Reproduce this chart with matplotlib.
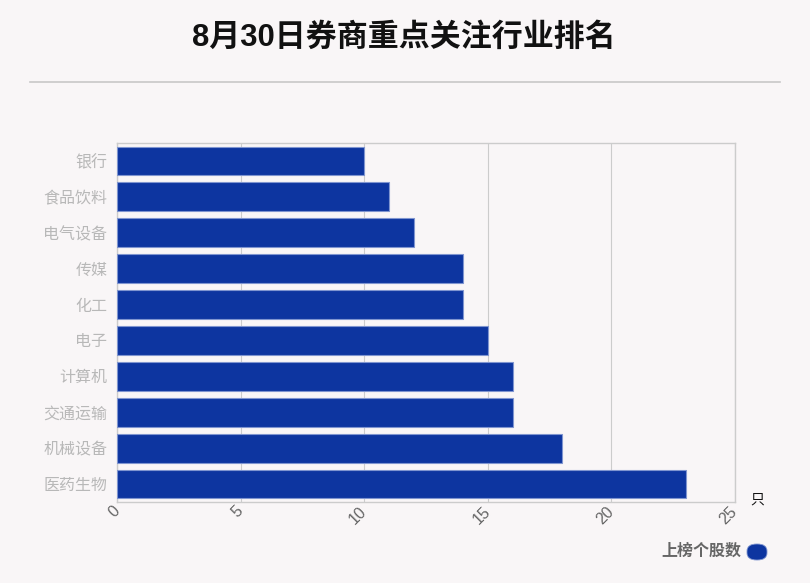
import matplotlib
matplotlib.use("Agg")
import matplotlib.pyplot as plt
from matplotlib.patches import FancyBboxPatch

plt.rcParams['font.family'] = ['Liberation Sans', 'Noto Sans CJK SC', 'DejaVu Sans']

title = "8月30日券商重点关注行业排名"
categories = ["银行", "食品饮料", "电气设备", "传媒", "化工", "电子", "计算机", "交通运输", "机械设备", "医药生物"]
values = [10, 11, 12, 14, 14, 15, 16, 16, 18, 23]
xticks = [0, 5, 10, 15, 20, 25]
series_name = "上榜个股数"
unit = "只"

W, H = 810, 583
bg = "#f9f6f7"
bar_color = "#0d35a0"

fig = plt.figure(figsize=(W / 100, H / 100), dpi=100, facecolor=bg)
ax = fig.add_axes([117 / W, 1 - 502 / H, (735 - 117) / W, (502 - 143) / H])
ax.set_facecolor(bg)

y = list(range(len(categories)))
ax.barh(y, values, height=0.8, color=bar_color, edgecolor="#7f95d0", linewidth=0.8, zorder=3)
ax.set_ylim(len(categories) - 0.5, -0.5)
ax.set_xlim(0, 25)
ax.set_yticks(y)
ax.set_yticklabels(categories, fontsize=11.5, color="#b8b8b8")
ax.set_xticks(xticks)
ax.set_xticklabels([str(t) for t in xticks], fontsize=11.5, color="#666666",
                   rotation=45, ha='right', va='center', rotation_mode='anchor')
ax.tick_params(axis='y', length=0, pad=7)
ax.tick_params(axis='x', length=0, pad=5)
ax.grid(axis='x', color="#cccccc", linewidth=0.8, zorder=0)
for s in ax.spines.values():
    s.set_color("#cccccc")
    s.set_linewidth(1.0)

fig.text(404 / W, 1 - 38 / H, title, ha='center', va='center', fontsize=22.3, fontweight='bold', color="#111111")
fig.add_artist(plt.Line2D([30 / W, 780 / W], [1 - 82 / H, 1 - 82 / H], color="#c8c8c8", linewidth=1.2))
fig.text(757 / W, 1 - 500 / H, unit, ha='center', va='center', fontsize=10, color="#111111")

fig.text(741 / W, 1 - 551 / H, series_name, ha='right', va='center', fontsize=11.5, fontweight='bold', color="#666666")
legend_box = FancyBboxPatch((747 / W, 1 - 560 / H), 20 / W, 16 / H,
                            boxstyle="round,pad=0,rounding_size=0.012",
                            transform=fig.transFigure, facecolor=bar_color, edgecolor="#7f95d0", linewidth=0.6)
fig.add_artist(legend_box)

fig.savefig("out.png", dpi=100, facecolor=bg)
